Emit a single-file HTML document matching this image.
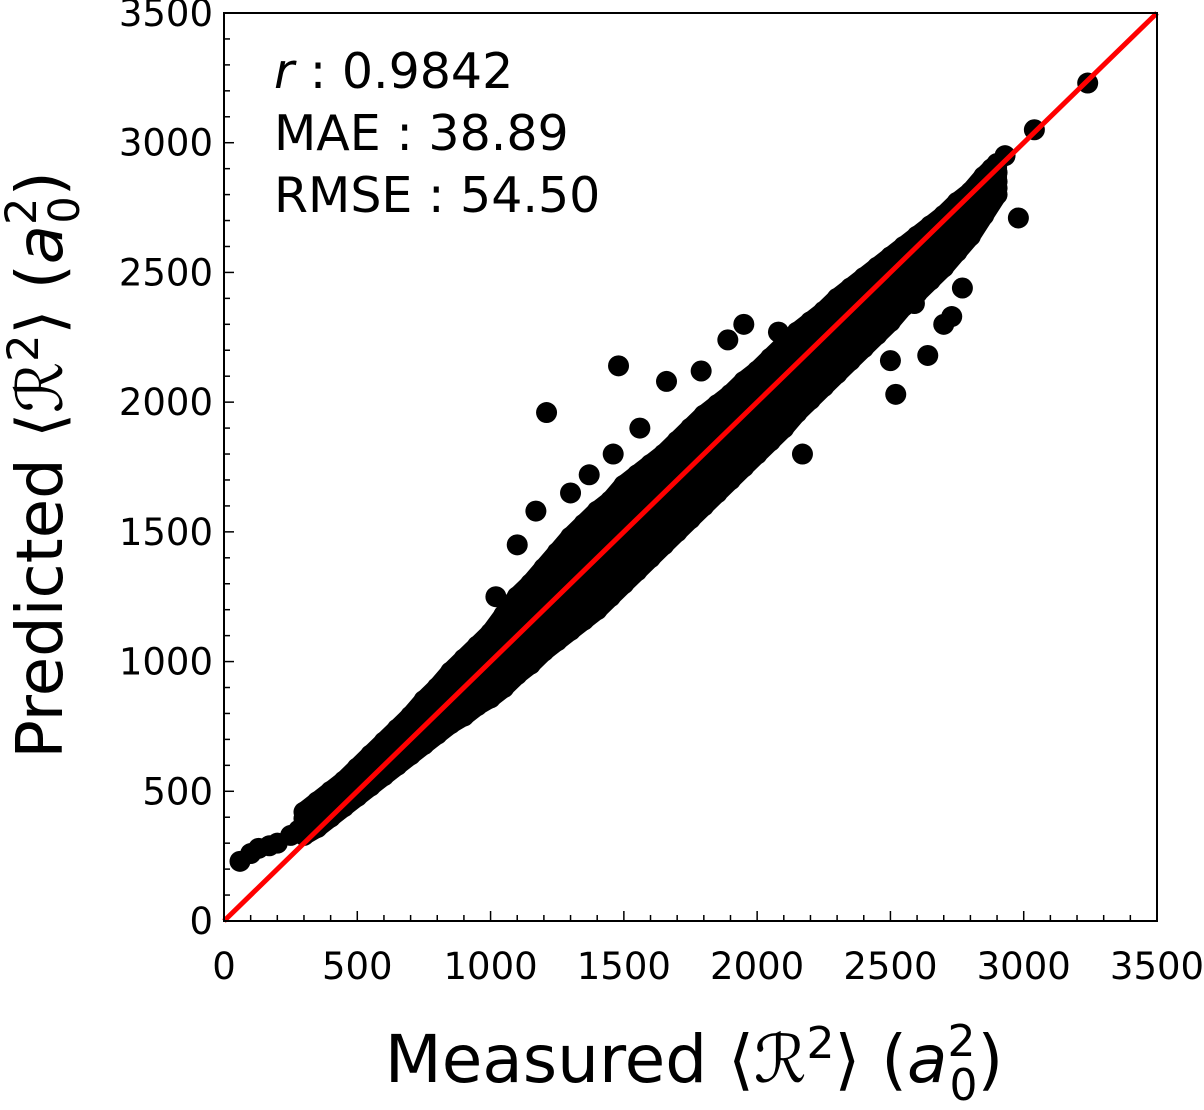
<!DOCTYPE html>
<html><head><meta charset="utf-8"><style>
html,body{margin:0;padding:0;background:#fff;}
svg text{font-family:"DejaVu Sans","Liberation Sans",sans-serif;fill:#000;}
</style></head><body>
<svg id="chart" width="1204" height="1105" xmlns="http://www.w3.org/2000/svg">
<g id="points"></g>
<g id="axes"></g>
</svg>
<script>
const xTicks=[0,500,1000,1500,2000,2500,3000,3500];
const yTicks=[0,500,1000,1500,2000,2500,3000,3500];
const bandX=[300,350,400,450,500,550,600,650,700,750,800,850,900,950,1000,1050,1100,1150,1200,1250,1300,1350,1400,1450,1500,1550,1600,1650,1700,1750,1800,1850,1900,1950,2000,2050,2100,2150,2200,2250,2300,2350,2400,2450,2500,2550,2600,2650,2700,2750,2800,2850,2900];
const bandLo=[330,360,400,440,480,520,560,600,640,680,720,760,790,830,860,900,950,990,1040,1080,1120,1160,1200,1250,1300,1350,1400,1450,1500,1550,1600,1650,1700,1750,1800,1850,1900,1960,2010,2060,2110,2160,2210,2260,2310,2370,2420,2470,2520,2580,2640,2720,2800];
const bandQ1=[350,385,425,465,505,545,590,635,675,720,760,805,840,885,920,965,1015,1060,1110,1155,1200,1245,1290,1340,1390,1440,1490,1535,1585,1635,1685,1735,1785,1835,1885,1935,1985,2040,2090,2135,2185,2235,2285,2330,2380,2435,2480,2530,2580,2635,2690,2755,2825];
const bandMid=[370,410,450,490,530,570,620,670,710,760,800,850,890,940,980,1030,1080,1130,1180,1230,1280,1330,1380,1430,1480,1530,1580,1620,1670,1720,1770,1820,1870,1920,1970,2020,2070,2120,2170,2210,2260,2310,2360,2400,2450,2500,2540,2590,2640,2690,2740,2790,2850];
const bandQ3=[395,435,475,515,560,605,655,705,750,805,850,905,950,1000,1045,1105,1165,1215,1270,1325,1380,1430,1480,1525,1580,1625,1670,1710,1760,1810,1860,1905,1950,2000,2045,2095,2145,2195,2240,2280,2330,2375,2420,2460,2505,2550,2590,2635,2680,2730,2775,2830,2885];
const bandHi=[420,460,500,540,590,640,690,740,790,850,900,960,1010,1060,1110,1180,1250,1300,1360,1420,1480,1530,1580,1620,1680,1720,1760,1800,1850,1900,1950,1990,2030,2080,2120,2170,2220,2270,2310,2350,2400,2440,2480,2520,2560,2600,2640,2680,2720,2770,2810,2870,2920];
const extraX=[60,100,130,170,200,250,280,1210,1480,1660,1790,1890,2080,2250,1460,1370,1170,2520,2640,2980,3240,3040,2770,2730,2590,2880,2800,2930,1100,2500,1300,1560,1950,2330,2700,2170,1020];
const extraY=[230,260,280,290,300,330,350,1960,2140,2080,2120,2240,2270,2350,1800,1720,1580,2030,2180,2710,3230,3050,2440,2330,2380,2900,2700,2950,1450,2160,1650,1900,2300,2400,2300,1800,1250];
const L=224,R=1157,T=13,B=921,MAX=3500;
const sx=v=>L+(R-L)*v/MAX, sy=v=>B-(B-T)*v/MAX;
const NS="http://www.w3.org/2000/svg";
const pts=document.getElementById('points'), ax=document.getElementById('axes');
function mk(tag,attrs,parent){const e=document.createElementNS(NS,tag);for(const k in attrs)e.setAttribute(k,attrs[k]);parent.appendChild(e);return e;}
// dense core envelope from lo/hi series
let d='M'+bandX.map((x,i)=>sx(x)+','+sy(bandHi[i])).join(' L');
d+=' L'+bandX.slice().reverse().map((x,j)=>sx(x)+','+sy(bandLo[bandX.length-1-j])).join(' L')+' Z';
const env=mk('path',{d:d,fill:'#000',stroke:'#000','stroke-width':20,'stroke-linejoin':'round'},pts);


function dot(x,y){const c=mk('circle',{cx:sx(x),cy:sy(y),r:10.5,fill:'#000'},pts);

}
[bandLo,bandQ1,bandMid,bandQ3,bandHi].forEach(arr=>bandX.forEach((x,i)=>dot(x,arr[i])));
extraX.forEach((x,i)=>dot(x,extraY[i]));
const line=mk('line',{x1:sx(0),y1:sy(0),x2:sx(MAX),y2:sy(MAX),stroke:'#f00','stroke-width':5},ax);


const frame=mk('rect',{x:L,y:T,width:R-L,height:B-T,fill:'none',stroke:'#000','stroke-width':2},ax);


for(let v=0;v<=MAX;v+=100){const major=v%500===0,len=major?10:6;
mk('line',{x1:sx(v),y1:B,x2:sx(v),y2:B-len,stroke:'#000','stroke-width':1.5},ax);
mk('line',{x1:L,y1:sy(v),x2:L+len,y2:sy(v),stroke:'#000','stroke-width':1.5},ax);}
xTicks.forEach(v=>{const t=mk('text',{x:sx(v),y:979,'text-anchor':'middle','font-size':37},ax);t.textContent=v;

});
yTicks.forEach(v=>{const t=mk('text',{x:213,y:sy(v)+13,'text-anchor':'end','font-size':37},ax);t.textContent=v;

});
</script>
<svg style="position:absolute;left:0;top:0" width="1204" height="1105" xmlns="http://www.w3.org/2000/svg">
<g font-size="49" font-family="DejaVu Sans, Liberation Sans, sans-serif">
<text x="274" y="88"><tspan font-style="italic">r</tspan> : 0.9842</text>
<text x="274" y="150">MAE : 38.89</text>
<text x="274" y="212">RMSE : 54.50</text>
</g>
<text x="694" y="1082" text-anchor="middle" font-size="66" font-family="DejaVu Sans, Liberation Sans, sans-serif">Measured ⟨<tspan font-style="italic">ℛ</tspan><tspan dy="-24" font-size="44">2</tspan><tspan dy="24">⟩ (<tspan font-style="italic">a</tspan></tspan><tspan dy="-26" font-size="44">2</tspan><tspan dx="-26" dy="44" font-size="44">0</tspan><tspan dy="-18">)</tspan></text>
<text transform="translate(62,465) rotate(-90)" text-anchor="middle" font-size="64" font-family="DejaVu Sans, Liberation Sans, sans-serif">Predicted ⟨<tspan font-style="italic">ℛ</tspan><tspan dy="-24" font-size="43">2</tspan><tspan dy="24">⟩ (<tspan font-style="italic">a</tspan></tspan><tspan dy="-26" font-size="43">2</tspan><tspan dx="-26" dy="43" font-size="43">0</tspan><tspan dy="-17">)</tspan></text>
</svg>
</body></html>
